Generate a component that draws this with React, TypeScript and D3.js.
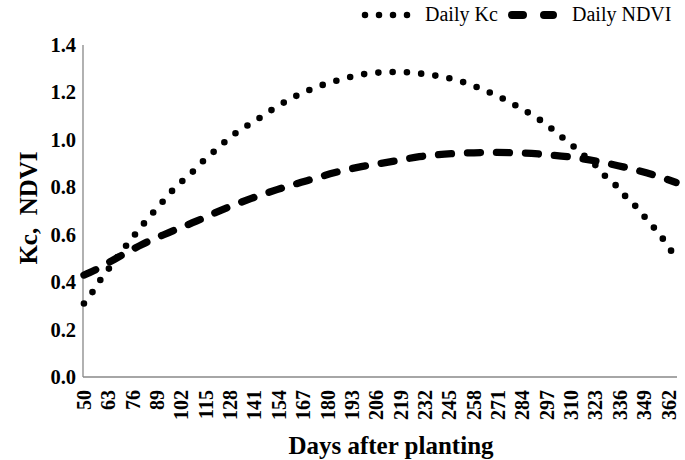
import React from "react";
import * as d3 from "d3";

const kcDays = [50, 55, 59, 64, 73, 78, 83, 88, 93, 98, 104, 110, 115, 121, 127, 133, 140, 150, 160, 167, 174, 181, 189, 196, 204, 212, 220, 228, 235, 243, 251, 258, 265, 272, 279, 286, 293, 299, 305, 311, 317, 323, 328, 334, 339, 345, 350, 355, 360, 364, 366];
const kcValues = [0.31, 0.363, 0.412, 0.464, 0.559, 0.608, 0.657, 0.703, 0.748, 0.793, 0.837, 0.88, 0.922, 0.961, 1.004, 1.04, 1.073, 1.125, 1.172, 1.199, 1.222, 1.241, 1.258, 1.273, 1.281, 1.286, 1.286, 1.281, 1.274, 1.263, 1.247, 1.228, 1.205, 1.18, 1.151, 1.12, 1.086, 1.051, 1.012, 0.974, 0.933, 0.893, 0.849, 0.807, 0.762, 0.715, 0.668, 0.622, 0.572, 0.526, 0.51];

const ndviDays = [50, 53, 68, 81, 95, 110, 124, 139, 153, 169, 184, 198, 214, 229, 247, 268, 283, 299, 314, 330, 344, 360, 366];
const ndviValues = [0.43, 0.44, 0.504, 0.559, 0.608, 0.657, 0.706, 0.752, 0.79, 0.828, 0.862, 0.887, 0.908, 0.929, 0.942, 0.947, 0.945, 0.936, 0.923, 0.9, 0.874, 0.837, 0.82];

const xTickLabels = [50, 63, 76, 89, 102, 115, 128, 141, 154, 167, 180, 193, 206, 219, 232, 245, 258, 271, 284, 297, 310, 323, 336, 349, 362];
const yTicks = [0, 0.2, 0.4, 0.6, 0.8, 1.0, 1.2, 1.4];

const seriesNames = ["Daily Kc", "Daily NDVI"];
const axisTitleX = "Days after planting";
const axisTitleY = "Kc,  NDVI";

const FONT = "'Liberation Serif', 'Times New Roman', serif";

export default function App() {
  const W = 685, H = 460;
  const left = 83, right = 677, top = 45, bottom = 377;
  const x = d3.scaleLinear().domain([49.5, 366.5]).range([left, right]);
  const y = d3.scaleLinear().domain([0, 1.4]).range([bottom, top]);

  const line = d3
    .line<[number, number]>()
    .x((d) => x(d[0]))
    .y((d) => y(d[1]))
    .curve(d3.curveMonotoneX);

  const kcPath = line(kcDays.map((d, i) => [d, kcValues[i]]) as [number, number][]) || "";
  const ndviPath = line(ndviDays.map((d, i) => [d, ndviValues[i]]) as [number, number][]) || "";

  return (
    <svg
      width={W}
      height={H}
      style={{ position: "absolute", left: 0, top: 0, background: "#fff" }}
      fontFamily={FONT}
    >
      {/* axes */}
      <line x1={left} y1={top} x2={left} y2={bottom} stroke="#888" strokeWidth={1.3} />
      <line x1={left} y1={bottom} x2={right} y2={bottom} stroke="#888" strokeWidth={1.3} />

      {/* y tick labels */}
      {yTicks.map((t) => (
        <text
          key={t}
          x={76}
          y={y(t)}
          textAnchor="end"
          dominantBaseline="central"
          fontSize={20.5}
          fontWeight="bold"
        >
          {t.toFixed(1)}
        </text>
      ))}

      {/* x tick labels */}
      {xTickLabels.map((t) => (
        <text
          key={t}
          transform={`translate(${x(t)},390) rotate(-90)`}
          textAnchor="end"
          dominantBaseline="central"
          fontSize={20}
          fontWeight="bold"
        >
          {t}
        </text>
      ))}

      {/* series */}
      <path
        d={ndviPath}
        fill="none"
        stroke="#000"
        strokeWidth={7.3}
        strokeLinecap="round"
        strokeDasharray="13 16"
      />
      <path
        d={kcPath}
        fill="none"
        stroke="#000"
        strokeWidth={6.6}
        strokeLinecap="round"
        strokeDasharray="0 14.3"
      />

      {/* axis titles */}
      <text x={391} y={454} textAnchor="middle" fontSize={25} fontWeight="bold">
        {axisTitleX}
      </text>
      <text
        transform={`translate(28,208) rotate(-90)`}
        textAnchor="middle"
        dominantBaseline="central"
        fontSize={25}
        fontWeight="bold"
        style={{ whiteSpace: "pre" }}
      >
        {axisTitleY}
      </text>

      {/* legend */}
      <line x1={365} y1={15} x2={408} y2={15} stroke="#000" strokeWidth={6.5} strokeLinecap="round" strokeDasharray="0 14" />
      <text x={425} y={21} fontSize={20}>
        {seriesNames[0]}
      </text>
      <line x1={512} y1={15} x2={553} y2={15} stroke="#000" strokeWidth={8} strokeLinecap="round" strokeDasharray="11 21" />
      <text x={572} y={21} fontSize={20}>
        {seriesNames[1]}
      </text>
    </svg>
  );
}
